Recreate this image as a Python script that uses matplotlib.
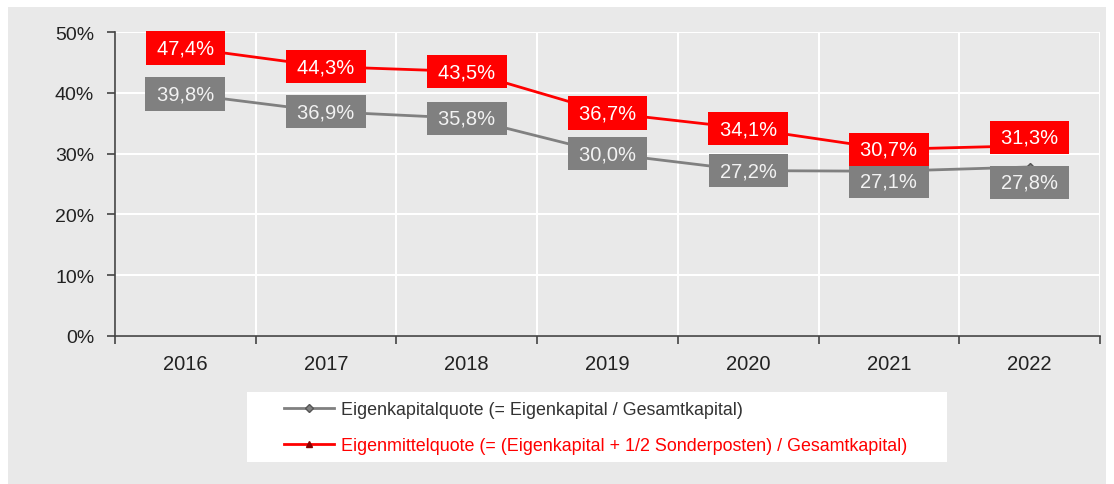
import matplotlib
matplotlib.use("Agg")
import matplotlib.pyplot as plt
from matplotlib.patches import Rectangle
from matplotlib.lines import Line2D
import numpy as np

# ── data ──────────────────────────────────────────────────────────────────────
years = ["2016", "2017", "2018", "2019", "2020", "2021", "2022"]
eigenkapital = [39.8, 36.9, 35.8, 30.0, 27.2, 27.1, 27.8]
eigenmittel = [47.4, 44.3, 43.5, 36.7, 34.1, 30.7, 31.3]

label_ek = "Eigenkapitalquote (= Eigenkapital / Gesamtkapital)"
label_em = "Eigenmittelquote (= (Eigenkapital + 1/2 Sonderposten) / Gesamtkapital)"

# ── styling ───────────────────────────────────────────────────────────────────
GREY = "#808080"
RED = "#ff0000"
BG = "#e9e9e9"
TXT = "#222222"

plt.rcParams["font.family"] = "Liberation Sans"

W, H = 1114, 485
fig = plt.figure(figsize=(W / 100, H / 100), dpi=100, facecolor="white")

# grey panel behind everything
fig.patches.append(Rectangle((8 / W, 0), (W - 16) / W, (H - 8) / H,
                             transform=fig.transFigure, facecolor=BG,
                             edgecolor="none", zorder=-2))

ax = fig.add_axes([115 / W, (H - 337) / H, 985 / W, 304 / H])
ax.set_facecolor(BG)

x = np.arange(len(years))

ax.plot(x, eigenkapital, color=GREY, lw=2, marker="D", ms=4,
        mfc=GREY, mec="#555555", zorder=3)
ax.plot(x, eigenmittel, color=RED, lw=2, marker="^", ms=5,
        mfc="#8b0000", mec="#8b0000", zorder=3)

# label offsets in points (only where boxes were pushed apart)
off_ek = {5: -7, 6: -11}
off_em = {6: 6}


def fmt(v):
    return "\u2009" + f"{v:.1f}%".replace(".", ",") + "\u2009"


for i, v in enumerate(eigenkapital):
    ax.annotate(fmt(v), (x[i], v),
                xytext=(0, off_ek.get(i, 0)), textcoords="offset points",
                ha="center", va="center", fontsize=14.5, color="#f2f2f2",
                bbox=dict(boxstyle="square,pad=0.36", fc=GREY, ec="none"),
                zorder=4)
for i, v in enumerate(eigenmittel):
    ax.annotate(fmt(v), (x[i], v),
                xytext=(0, off_em.get(i, 0)), textcoords="offset points",
                ha="center", va="center", fontsize=14.5, color="white",
                bbox=dict(boxstyle="square,pad=0.36", fc=RED, ec="none"),
                zorder=5)

ax.set_xlim(-0.5, len(years) - 0.5)
ax.set_ylim(0, 50)
ax.set_yticks(np.arange(0, 51, 10))
ax.set_yticklabels([f"{t}%" for t in range(0, 51, 10)])

ax.set_xticks(np.arange(-0.5, len(years), 1.0))
ax.set_xticklabels([])
ax.set_xticks(x, minor=True)
ax.set_xticklabels(years, minor=True)
ax.tick_params(axis="x", which="minor", length=0, pad=13, labelsize=14.5,
               labelcolor=TXT)
ax.tick_params(axis="x", which="major", length=6, width=1.2, color="#444444",
               direction="out")
ax.tick_params(axis="y", length=6, width=1.2, color="#444444", pad=9,
               labelsize=14, labelcolor=TXT)

ax.grid(True, which="major", color="white", lw=1.5)
ax.set_axisbelow(True)
for s in ["top", "right"]:
    ax.spines[s].set_visible(False)
for s in ["left", "bottom"]:
    ax.spines[s].set_color("#444444")
    ax.spines[s].set_linewidth(1.2)
    ax.spines[s].set_zorder(6)

# legend with a white box behind it
fig.patches.append(Rectangle((247 / W, (H - 463) / H), 700 / W, 70 / H,
                             transform=fig.transFigure, facecolor="white",
                             edgecolor="none", zorder=1))
handles = [
    Line2D([], [], color=GREY, lw=2, marker="D", ms=4, mfc=GREY, mec="#555555"),
    Line2D([], [], color=RED, lw=2, marker="^", ms=5, mfc="#8b0000", mec="#8b0000"),
]
leg = fig.legend(handles, [label_ek, label_em], loc="upper left",
                 bbox_to_anchor=(284 / W, (H - 402) / H), frameon=False,
                 prop={"size": 12.9},
                 handlelength=2.8, handletextpad=0.4,
                 labelspacing=1.05, borderaxespad=0, borderpad=0)
leg.set_zorder(2)
leg.get_texts()[0].set_color("#333333")
leg.get_texts()[1].set_color(RED)

fig.savefig("out.png", dpi=100, facecolor="white")
